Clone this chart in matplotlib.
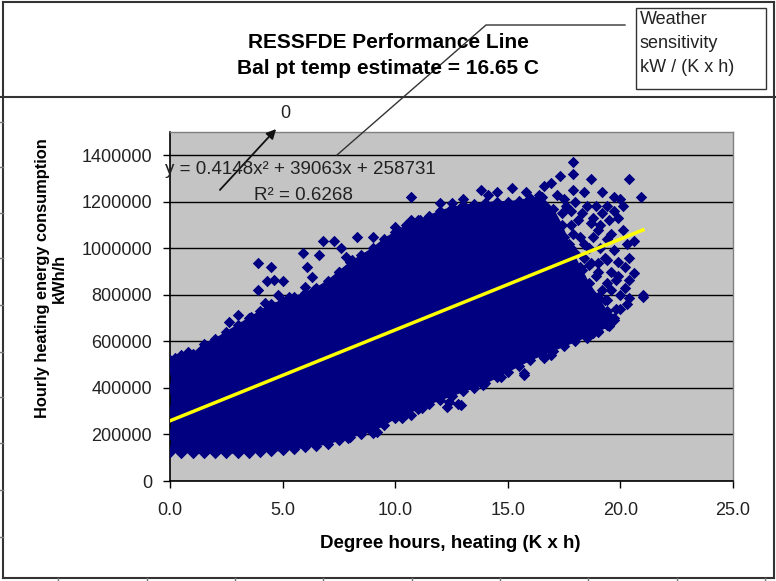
import matplotlib
matplotlib.use("Agg")
import matplotlib.pyplot as plt
from matplotlib.lines import Line2D
from matplotlib.patches import Rectangle, FancyArrowPatch
import numpy as np

plt.rcParams['font.family'] = ['Liberation Sans', 'DejaVu Sans']

W, H = 776, 581

# Outline of the solid part of the scatter cloud, y in thousands
core_x = [0.0, 0.5, 1.0, 1.5, 2.0, 2.5, 3.0, 3.5, 4.0, 4.5, 5.0, 5.5, 6.0, 6.5, 7.0,
          7.5, 8.0, 8.5, 9.0, 9.5, 10.0, 10.5, 11.0, 11.5, 12.0, 12.5, 13.0, 13.5,
          14.0, 14.5, 15.0, 15.5, 16.0, 16.5,
          17.0, 17.4, 17.8, 18.2, 18.6, 19.0, 19.4, 19.7,
          19.5, 19.0, 18.5, 18.0, 17.5, 17.0, 16.5, 16.0, 15.5, 15.0, 14.5, 14.0,
          13.5, 13.0, 12.5, 12.0, 11.5, 11.0, 10.5, 10.0, 9.5, 9.0, 8.5, 8.0, 7.5,
          7.0, 6.5, 6.0, 5.5, 5.0, 4.5, 4.0, 3.5, 3.0, 2.5, 2.0, 1.5, 1.0, 0.5, 0.0]
core_y_k = [520, 540, 545, 590, 610, 640, 670, 700, 730, 760, 775, 790, 810, 830, 860,
            900, 940, 970, 1000, 1040, 1070, 1100, 1120, 1140, 1160, 1175, 1185, 1190,
            1195, 1200, 1200, 1205, 1215, 1220,
            1170, 1100, 1000, 920, 850, 790, 730, 700,
            665, 645, 620, 600, 580, 560, 540, 520, 495, 470, 445, 420,
            400, 385, 365, 350, 330, 310, 290, 270, 240, 215, 200, 190, 175,
            160, 152, 145, 138, 132, 128, 125, 122, 120, 120, 119, 120, 121, 122, 125]

# Scattered points round the edge of the cloud, y in thousands
fringe_x = [10.7, 10.7, 11.1, 10.0, 9.0, 8.3, 7.3, 6.8, 7.6, 5.9, 6.6, 7.8, 3.9, 4.5, 6.1,
            7.5, 8.1, 4.3, 4.6, 5.0, 6.3, 3.9, 5.3, 6.0, 6.4, 4.2, 2.6, 3.0, 3.6, 3.8,
            0.8, 0.2, 1.9, 2.1, 0.5, 2.2, 4.8, 5.6, 4.4,
            17.9, 17.9, 17.3, 18.7, 20.4, 20.9, 16.9, 15.2, 14.5, 19.2, 18.4, 17.9, 19.7,
            20.0, 13.0, 14.1, 20.1, 19.7, 19.2, 20.6, 20.3, 19.7, 19.4, 19.0, 20.6, 20.4,
            19.8, 19.4, 21.0, 20.4, 20.0, 19.4, 18.7, 18.3, 19.0, 18.7, 21.0,
            17.6, 18.0, 18.3, 17.8, 18.2, 18.6, 17.7, 18.0, 18.4, 17.6, 18.9, 19.2, 18.8,
            19.6, 19.9, 20.1, 19.4, 18.9, 19.5, 18.2, 17.9, 18.5, 19.0, 19.8, 20.2, 19.3,
            16.6, 16.4, 15.8, 13.8, 12.0, 12.5, 11.5,
            17.2, 17.5, 17.8, 18.1, 18.5, 18.8, 19.1, 19.4, 19.6, 19.9, 17.4, 17.5, 17.9,
            18.4, 18.8, 19.1, 19.3, 19.0, 18.6, 18.2, 17.9, 17.4, 18.4, 18.9, 19.3, 19.6,
            19.9, 20.2, 20.4, 19.6, 20.0, 20.3, 19.2, 18.7, 18.2,
            12.9, 15.7, 18.5, 19.0, 19.4, 19.7, 14.7, 13.9, 16.6, 16.9, 12.4, 11.2, 12.3,
            12.8, 15.7, 10.7, 10.3, 9.2, 9.0, 7.9, 18.8,
            0.0, 0.0, 0.0, 0.0, 0.0]
fringe_y_k = [1220, 1120, 1120, 1090, 1050, 1050, 1030, 1030, 1000, 980, 970, 962, 936, 919, 919,
              897, 949, 860, 865, 860, 876, 820, 790, 833, 820, 764, 683, 713, 704, 691,
              554, 528, 593, 575, 507, 541, 800, 760, 740,
              1370, 1320, 1310, 1300, 1300, 1220, 1280, 1260, 1240, 1240, 1240, 1250, 1220,
              1210, 1210, 1230, 1180, 1160, 1150, 1030, 1020, 992, 949, 936, 893, 863,
              863, 850, 799, 786, 799, 777, 936, 906, 1080, 1110, 790,
              1180, 1200, 1150, 1100, 1050, 1000, 1020, 980, 960, 920, 880, 820, 800,
              900, 940, 1080, 1040, 1180, 1120, 850, 780, 740, 720, 740, 830, 680,
              1270, 1230, 1240, 1250, 1195, 1195, 1130,
              1230, 1210, 1160, 1120, 1180, 1130, 1100, 1180, 1060, 1130, 1150, 1050, 1060,
              1020, 1050, 1000, 960, 900, 930, 880, 900, 980, 800, 760, 780, 820,
              880, 920, 960, 700, 740, 760, 690, 700, 760,
              326, 455, 614, 640, 670, 691, 447, 412, 528, 541, 339, 313, 318,
              330, 464, 283, 270, 210, 206, 185, 635,
              130, 200, 300, 400, 480]

# Polynomial trend line shown on the chart
trend_x = [0.0, 21.0]
trend_y = [258731, 1079000]

x_ticks = [0, 5, 10, 15, 20, 25]
y_ticks = [0, 200000, 400000, 600000, 800000, 1000000, 1200000, 1400000]

navy = '#000080'


def fx(px):
    return px / W


def fy(py):
    return 1 - py / H


fig = plt.figure(figsize=(W / 100, H / 100), dpi=100)
fig.patch.set_facecolor('white')

ax = fig.add_axes([fx(170), fy(481), 563 / W, 349 / H])
ax.set_facecolor('#c4c4c4')

# cloud: solid part, its ragged edge, then the loose points
core_y = np.array(core_y_k) * 1000
ax.fill(core_x, core_y, color=navy, lw=1, zorder=2)
ax.scatter(core_x, core_y, marker='D', s=34, color=navy, linewidths=0, zorder=3)
ax.scatter(fringe_x, np.array(fringe_y_k) * 1000, marker='D', s=34, color=navy,
           linewidths=0, zorder=3)
ax.plot(trend_x, trend_y, color='#ffff00', lw=2.5, zorder=4)

ax.set_xlim(0, 25)
ax.set_ylim(0, 1500000)
ax.set_xticks(x_ticks)
ax.set_xticklabels(['%.1f' % v for v in x_ticks])
ax.set_yticks(y_ticks)
ax.set_yticklabels(['%d' % v for v in y_ticks])
ax.tick_params(axis='both', direction='out', length=5, width=1, colors='black',
               labelsize=13, labelcolor='#222222')
ax.tick_params(axis='y', pad=8)
ax.tick_params(axis='x', pad=10)
ax.grid(axis='y', color='black', lw=1)
ax.set_axisbelow(True)
for side in ['left', 'bottom']:
    ax.spines[side].set_color('black')
    ax.spines[side].set_linewidth(1.2)
for side in ['top', 'right']:
    ax.spines[side].set_color('#808080')
    ax.spines[side].set_linewidth(1)

# equation and R2
fig.text(fx(165), fy(170), 'y = 0.4148x\u00b2 + 39063x + 258731', fontsize=13.5,
         ha='left', va='center', color='#222222')
fig.text(fx(303), fy(195), 'R\u00b2 = 0.6268', fontsize=13.5, ha='center', va='center',
         color='#222222')

# titles and axis labels
fig.text(fx(388), fy(42), 'RESSFDE Performance Line', fontsize=15, fontweight='bold',
         ha='center', va='center')
fig.text(fx(388), fy(68), 'Bal pt temp estimate = 16.65 C', fontsize=15,
         fontweight='bold', ha='center', va='center')
fig.text(fx(450), fy(543), 'Degree hours, heating (K x h)', fontsize=13.5,
         fontweight='bold', ha='center', va='center')
fig.text(fx(51), fy(278), 'Hourly heating energy consumption\nkWh/h', fontsize=11.8,
         fontweight='bold', ha='center', va='center', rotation=90,
         multialignment='center', linespacing=1.15)

# weather sensitivity box
fig.add_artist(Rectangle((fx(636), fy(89)), 130 / W, 81 / H, transform=fig.transFigure,
                         fill=False, ec='#333333', lw=1))
for label, py in [('Weather', 20), ('sensitivity', 44), ('kW / (K x h)', 68)]:
    fig.text(fx(640), fy(py), label, fontsize=13, ha='left', va='center',
             color='#222222')

# leader line from the box and the "0" arrow
fig.add_artist(Line2D([fx(625), fx(486), fx(337)], [fy(25), fy(25), fy(155)],
                      transform=fig.transFigure, color='#333333', lw=1))
fig.add_artist(FancyArrowPatch((fx(218), fy(192)), (fx(278), fy(127)),
                               transform=fig.transFigure, arrowstyle='-|>',
                               mutation_scale=14, color='#111111', lw=1.3))
fig.text(fx(285), fy(113), '0', fontsize=13, ha='center', va='center', color='#222222')

# outer frame of the sheet snapshot
frame = dict(transform=fig.transFigure, color='#333333', lw=1.5)
fig.add_artist(Line2D([fx(3), fx(3)], [fy(2), fy(578)], **frame))
fig.add_artist(Line2D([fx(3), fx(774)], [fy(2), fy(2)], **frame))
fig.add_artist(Line2D([fx(773.5), fx(773.5)], [fy(2), fy(578)], **frame))
fig.add_artist(Line2D([fx(3), fx(773.5)], [fy(578), fy(578)], **frame))
fig.add_artist(Line2D([fx(0), fx(776)], [fy(97), fy(97)], **frame))
for py in [122, 167, 213, 258, 305, 352, 397, 443, 490, 537]:
    fig.add_artist(Line2D([fx(0), fx(3)], [fy(py), fy(py)], transform=fig.transFigure,
                          color='#777777', lw=1))
for px in [58, 147, 235, 323, 412, 500, 588, 677, 765]:
    fig.add_artist(Line2D([fx(px), fx(px)], [fy(578), fy(581)], transform=fig.transFigure,
                          color='#777777', lw=1))

fig.savefig('out.png', dpi=100)
